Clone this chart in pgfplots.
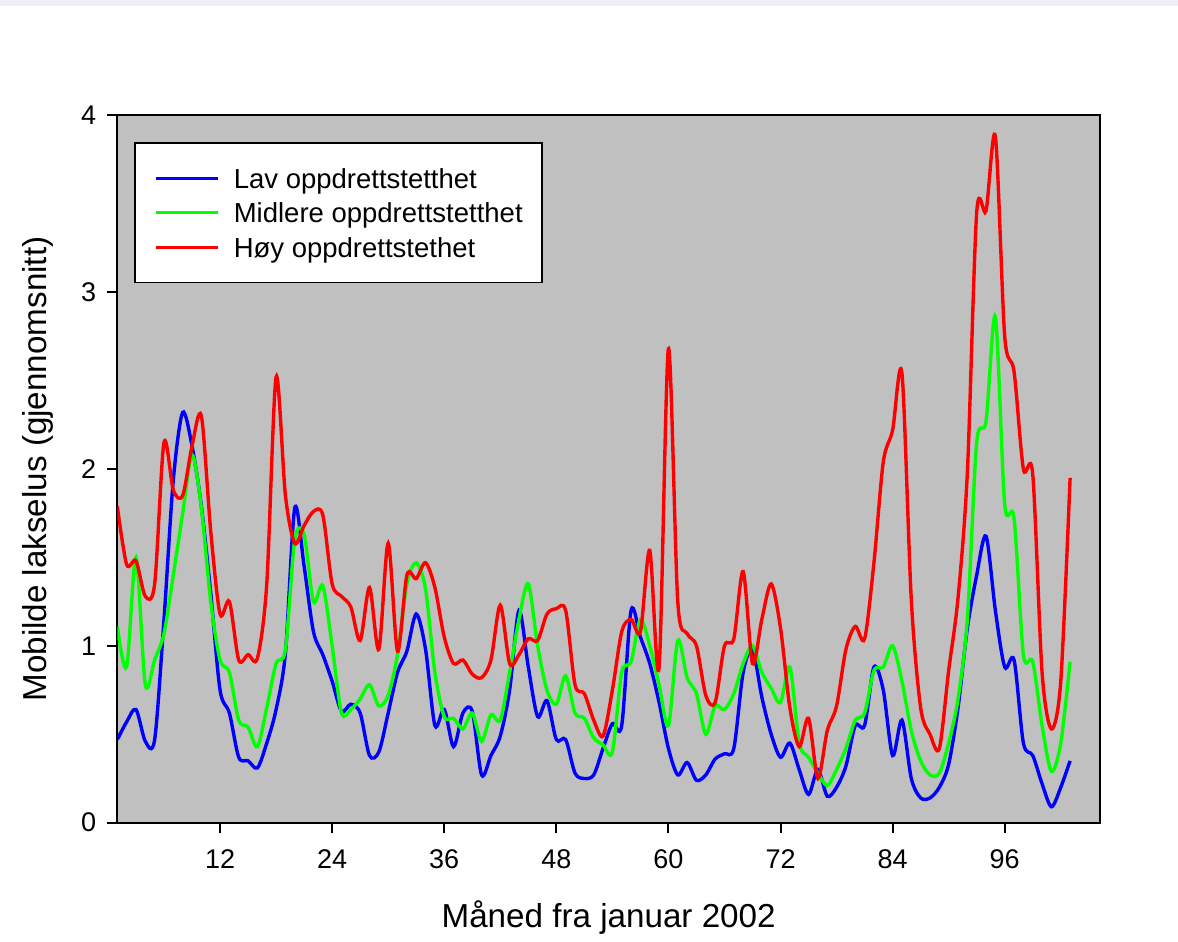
\documentclass[border=0pt]{standalone}
\usepackage{fontspec}
\setmainfont{Liberation Sans}
\usepackage{pgfplots}
\pgfplotsset{compat=1.18}
\usepackage{pgfplotstable}

\definecolor{bggray}{RGB}{192,192,192}
\definecolor{frame}{RGB}{238,239,243}
\definecolor{cblue}{RGB}{0,0,255}
\definecolor{cgreen}{RGB}{0,255,0}
\definecolor{cred}{RGB}{255,0,0}

\pgfplotstableread{
m lav mid hoy
1 0.47 1.11 1.79
2 0.57 0.88 1.46
3 0.64 1.50 1.48
4 0.46 0.78 1.28
5 0.47 0.92 1.35
6 1.15 1.07 2.15
7 1.94 1.40 1.88
8 2.32 1.75 1.85
9 2.13 2.08 2.13
10 1.79 1.78 2.30
11 1.30 1.25 1.65
12 0.75 0.92 1.18
13 0.62 0.85 1.25
14 0.37 0.58 0.92
15 0.35 0.54 0.95
16 0.31 0.43 0.93
17 0.45 0.65 1.35
18 0.64 0.90 2.52
19 0.96 0.98 1.85
20 1.78 1.60 1.58
21 1.45 1.63 1.68
22 1.08 1.25 1.76
23 0.95 1.34 1.74
24 0.80 1.00 1.35
25 0.63 0.62 1.28
26 0.67 0.64 1.22
27 0.62 0.70 1.03
28 0.38 0.78 1.33
29 0.40 0.66 0.98
30 0.62 0.72 1.58
31 0.85 0.95 0.97
32 0.97 1.35 1.40
33 1.18 1.47 1.38
34 0.98 1.32 1.47
35 0.55 0.85 1.33
36 0.64 0.60 1.05
37 0.43 0.59 0.90
38 0.62 0.53 0.92
39 0.63 0.62 0.84
40 0.27 0.46 0.82
41 0.38 0.61 0.92
42 0.49 0.58 1.23
43 0.75 0.85 0.90
44 1.20 1.15 0.95
45 0.88 1.35 1.04
46 0.60 1.00 1.03
47 0.69 0.75 1.18
48 0.47 0.67 1.21
49 0.47 0.83 1.20
50 0.28 0.62 0.78
51 0.25 0.59 0.73
52 0.27 0.48 0.58
53 0.42 0.44 0.49
54 0.56 0.40 0.75
55 0.55 0.85 1.08
56 1.20 0.91 1.15
57 1.05 1.15 1.08
58 0.90 1.00 1.54
59 0.68 0.78 0.88
60 0.42 0.55 2.68
61 0.27 1.03 1.25
62 0.34 0.82 1.07
63 0.24 0.73 1.00
64 0.27 0.50 0.72
65 0.36 0.66 0.68
66 0.39 0.64 1.00
67 0.42 0.73 1.04
68 0.85 0.90 1.42
69 0.98 1.00 0.90
70 0.71 0.85 1.15
71 0.50 0.76 1.35
72 0.37 0.68 1.10
73 0.45 0.88 0.65
74 0.30 0.45 0.43
75 0.16 0.37 0.59
76 0.30 0.28 0.25
77 0.15 0.21 0.52
78 0.20 0.30 0.66
79 0.32 0.42 0.98
80 0.55 0.58 1.11
81 0.55 0.62 1.04
82 0.88 0.86 1.47
83 0.75 0.88 2.04
84 0.38 1.00 2.22
85 0.58 0.80 2.54
86 0.25 0.52 1.26
87 0.14 0.35 0.65
88 0.14 0.27 0.50
89 0.20 0.28 0.42
90 0.33 0.45 0.86
91 0.65 0.70 1.27
92 1.10 1.15 1.98
93 1.40 2.15 3.45
94 1.62 2.27 3.46
95 1.20 2.86 3.88
96 0.88 1.80 2.75
97 0.92 1.72 2.55
98 0.45 0.95 2.00
99 0.38 0.91 1.97
100 0.22 0.55 0.85
101 0.09 0.29 0.53
102 0.20 0.45 0.80
103 0.35 0.91 1.95
}\data

\begin{document}
\begin{tikzpicture}
\useasboundingbox (-58.65pt,-59.65pt) rectangle (530.35pt,411.35pt);
\fill[frame] (-58.65pt,408.35pt) rectangle (530.35pt,411.35pt);
\begin{axis}[
  at={(0pt,0pt)}, anchor=south west,
  scale only axis, width=491.35pt, height=353.7pt,
  xmin=1, xmax=106.2, ymin=0, ymax=4,
  xtick={12,24,36,48,60,72,84,96}, ytick={0,1,2,3,4},
  tick align=outside, xtick pos=bottom, ytick pos=left,
  major tick length=5pt,
  axis background/.style={fill=bggray},
  axis line style={line width=1pt, black},
  every tick/.style={line width=1pt, black},
  /pgf/number format/assume math mode=true,
  ticklabel style={font=\fontsize{13.5}{16}\selectfont},
  xticklabel style={yshift=-5pt},
  yticklabel style={xshift=-2pt},
  xlabel={Måned fra januar 2002},
  ylabel={Mobilde lakselus (gjennomsnitt)},
  label style={font=\fontsize{16.6}{20}\selectfont},
  xlabel style={at={(axis description cs:0.5,-0.1343)}, anchor=center},
  ylabel style={at={(axis description cs:-0.0806,0.5)}, anchor=center},
  legend cell align=left,
  legend style={at={(axis description cs:0.0173,0.9618)}, anchor=north west,
    draw=black, line width=0.7pt, fill=white,
    font=\fontsize{13.75}{16}\selectfont,
    inner xsep=9.6pt, inner ysep=10.6pt,
    row sep=3.25pt, column sep=7.2pt,
    nodes={inner sep=0pt, text height=12pt, text depth=2pt}},
  legend image code/.code={\path (0pt,-4.9pt); \draw[#1, line width=1.6pt] (-0.8pt,0pt) -- (30.2pt,0pt);},
]
\addplot[cblue, line width=1.7pt, smooth] table[x=m, y=lav] {\data};
\addlegendentry{Lav oppdrettstetthet}
\addplot[cgreen, line width=1.7pt, smooth] table[x=m, y=mid] {\data};
\addlegendentry{Midlere oppdrettstetthet}
\addplot[cred, line width=1.7pt, smooth] table[x=m, y=hoy] {\data};
\addlegendentry{Høy oppdrettstethet}
\end{axis}
\end{tikzpicture}
\end{document}
